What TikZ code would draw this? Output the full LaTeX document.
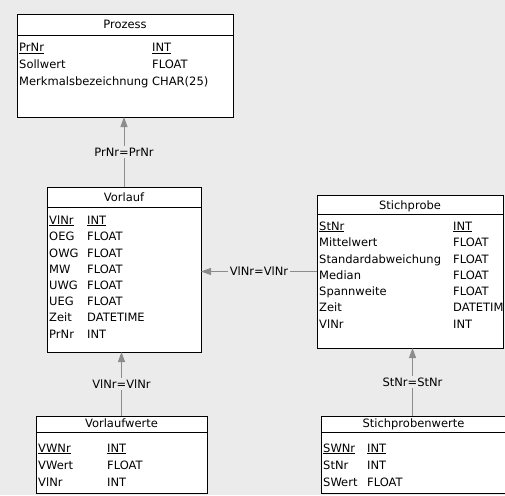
\documentclass[tikz,border=0pt]{standalone}
\usepackage{fontspec}
\setmainfont{DejaVu Sans}
\usetikzlibrary{arrows.meta}
\definecolor{bgray}{RGB}{235,235,235}
\definecolor{lgray}{RGB}{140,140,140}

\begin{document}
\begin{tikzpicture}[x=1pt,y=-1pt,>=Stealth,
  tbl/.style={draw=black,line width=1pt,fill=white,inner sep=0pt,outer sep=0pt},
  ttl/.style={inner sep=0pt,text height=8.5pt,text depth=2.5pt,font=\fontsize{11.5}{13}\selectfont},
  fld/.style={anchor=west,inner sep=0pt,text height=8.5pt,text depth=2.5pt,font=\fontsize{11.5}{13}\selectfont},
  fk/.style={draw=lgray,line width=1pt,-{Triangle[length=10pt,width=7pt]}},
  rel/.style={fill=bgray,inner sep=1.5pt,font=\fontsize{11.5}{13}\selectfont}]
  % background
  \fill[bgray] (0,0) rectangle (505,495);
  \useasboundingbox (0,0) rectangle (505,495);
  % tables
  \node[tbl,minimum width=216pt,minimum height=102pt] (prozess) at (125,66) {};
  \draw (prozess.north west) ++(0,20) -- ++(216,0);
  \node[ttl] (prozess-t) at (125,26) {Prozess};
  \foreach \y/\n/\t [count=\i] in {49/\underline{PrNr}/\underline{INT},
                                   65/Sollwert/FLOAT,
                                   82/Merkmalsbezeichnung/CHAR(25)} {
    \node[fld] (pz-n\i) at (19,\y) {\n};
    \node[fld] (pz-t\i) at (152,\y) {\t};
  }

  \node[tbl,minimum width=154pt,minimum height=165pt] (vorlauf) at (124,269.5) {};
  \draw (vorlauf.north west) ++(0,20) -- ++(154,0);
  \node[ttl] (vorlauf-t) at (124,198) {Vorlauf};
  \foreach \y/\n/\t [count=\i] in {221/\underline{VlNr}/\underline{INT},
                                   237/OEG/FLOAT, 254/OWG/FLOAT, 270/MW/FLOAT,
                                   286/UWG/FLOAT, 302/UEG/FLOAT,
                                   318/Zeit/DATETIME, 335/PrNr/INT} {
    \node[fld] (vl-n\i) at (49,\y) {\n};
    \node[fld] (vl-t\i) at (87,\y) {\t};
  }

  \node[tbl,minimum width=186pt,minimum height=153pt] (stichprobe) at (410,271.5) {};
  \draw (stichprobe.north west) ++(0,19) -- ++(186,0);
  \node[ttl] (stichprobe-t) at (410,206) {Stichprobe};
  \begin{scope}
    \clip (stichprobe.north west) rectangle (stichprobe.south east);
    \foreach \y/\n/\t [count=\i] in {227/\underline{StNr}/\underline{INT},
                                     243/Mittelwert/FLOAT,
                                     260/Standardabweichung/FLOAT,
                                     276/Median/FLOAT, 292/Spannweite/FLOAT,
                                     308/Zeit/DATETIME, 325/VlNr/INT} {
      \node[fld] (sp-n\i) at (319,\y) {\n};
      \node[fld] (sp-t\i) at (453,\y) {\t};
    }
  \end{scope}

  \node[tbl,minimum width=171pt,minimum height=77pt] (vorlaufwerte) at (121.5,454.5) {};
  \draw (vorlaufwerte.north west) ++(0,16) -- ++(171,0);
  \node[ttl] (vorlaufwerte-t) at (121.5,424) {Vorlaufwerte};
  \foreach \y/\n/\t [count=\i] in {449/\underline{VWNr}/\underline{INT},
                                   466/VWert/FLOAT, 483/VlNr/INT} {
    \node[fld] (vw-n\i) at (38,\y) {\n};
    \node[fld] (vw-t\i) at (107,\y) {\t};
  }

  \node[tbl,minimum width=188pt,minimum height=77pt] (stichprobenwerte) at (415,454.5) {};
  \draw (stichprobenwerte.north west) ++(0,16) -- ++(188,0);
  \node[ttl] (stichprobenwerte-t) at (413.5,424) {Stichprobenwerte};
  \foreach \y/\n/\t [count=\i] in {449/\underline{SWNr}/\underline{INT},
                                   466/StNr/INT, 483/SWert/FLOAT} {
    \node[fld] (sw-n\i) at (323,\y) {\n};
    \node[fld] (sw-t\i) at (367,\y) {\t};
  }

  % connectors
  \draw[fk] (stichprobenwerte-t |- stichprobenwerte.north) ++(-1,0) coordinate (c3)
    -- node[rel] (r3) {StNr=StNr} (c3 |- stichprobe.south);
  \draw[fk] (vorlauf.north) -- node[rel] (r1) {PrNr=PrNr} (vorlauf.north |- prozess.south);
  \draw[fk] (vorlaufwerte.north) -- node[rel] (r2) {VlNr=VlNr} (vorlaufwerte.north |- vorlauf.south);
  \draw[fk] (stichprobe.west) -- node[rel] (r4) {VlNr=VlNr} (stichprobe.west -| vorlauf.east);
\end{tikzpicture}
\end{document}
